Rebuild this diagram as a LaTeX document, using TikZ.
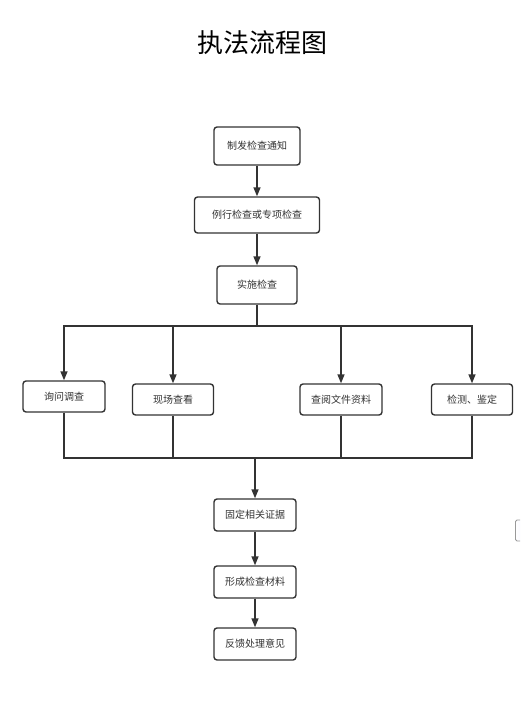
\documentclass[tikz,border=0pt]{standalone}
\usepackage{fontspec}
\setmainfont{Noto Sans CJK SC}
\newfontfamily\cjk{Noto Sans CJK SC}
\usetikzlibrary{arrows.meta}
\definecolor{ln}{HTML}{333333}
\definecolor{tx}{HTML}{333333}
\tikzset{
  stepbox/.style={draw=ln, line width=1.4pt, rounded corners=3pt, fill=white, text=tx, font=\cjk\fontsize{10}{12}\selectfont, inner sep=0pt},
  conn/.style={draw=ln, line width=1.4pt},
  arr/.style={conn, -{Triangle[length=9pt,width=7pt]}}
}
\begin{document}
\begin{tikzpicture}[x=1pt,y=-1pt]
\useasboundingbox (0,0) rectangle (520,709);
\fill[white] (0,0) rectangle (520,709);
\node[font=\cjk\fontsize{26}{30}\selectfont] (title) at (262,43) {执法流程图};
% main column
\node[stepbox, minimum width=86pt, minimum height=38pt] (n1) at (257,146) {制发检查通知};
\node[stepbox, minimum width=125pt, minimum height=36pt] (n2) at (257,215) {例行检查或专项检查};
\node[stepbox, minimum width=80pt, minimum height=38pt] (n3) at (257,285) {实施检查};
% branches
\node[stepbox, minimum width=82pt, minimum height=31pt] (b1) at (64,396.5) {询问调查};
\node[stepbox, minimum width=81pt, minimum height=31pt] (b2) at (173,399.5) {现场查看};
\node[stepbox, minimum width=82pt, minimum height=31pt] (b3) at (341,399.5) {查阅文件资料};
\node[stepbox, minimum width=81pt, minimum height=31pt] (b4) at (472,399.5) {检测、鉴定};
% lower column
\node[stepbox, minimum width=82pt, minimum height=32pt] (n4) at (255,515) {固定相关证据};
\node[stepbox, minimum width=82pt, minimum height=32pt] (n5) at (255,582) {形成检查材料};
\node[stepbox, minimum width=82pt, minimum height=32pt] (n6) at (255,644) {反馈处理意见};
% coordinates
\coordinate (split) at (257,326);
\coordinate (merge) at (255,458);
% connectors
\draw[arr] (n1) -- (n2);
\draw[arr] (n2) -- (n3);
\draw[conn] (n3.south) -- (split);
\draw[arr] (split) -| (b1.north);
\draw[arr] (split) -| (b2.north);
\draw[arr] (split) -| (b3.north);
\draw[arr] (split) -| (b4.north);
\draw[conn] (b1.south) |- (merge);
\draw[conn] (b2.south) |- (merge);
\draw[conn] (b3.south) |- (merge);
\draw[conn] (b4.south) |- (merge);
\draw[arr] (merge) -- (n4.north);
\draw[arr] (n4) -- (n5);
\draw[arr] (n5) -- (n6);
% edge fragment
\begin{scope}
\clip (0,0) rectangle (520,709);
\draw[draw=gray!80, line width=0.8pt, rounded corners=1.5pt, left color=white, right color=blue!6] (515.5,520) rectangle (530,541);
\end{scope}
\end{tikzpicture}
\end{document}
